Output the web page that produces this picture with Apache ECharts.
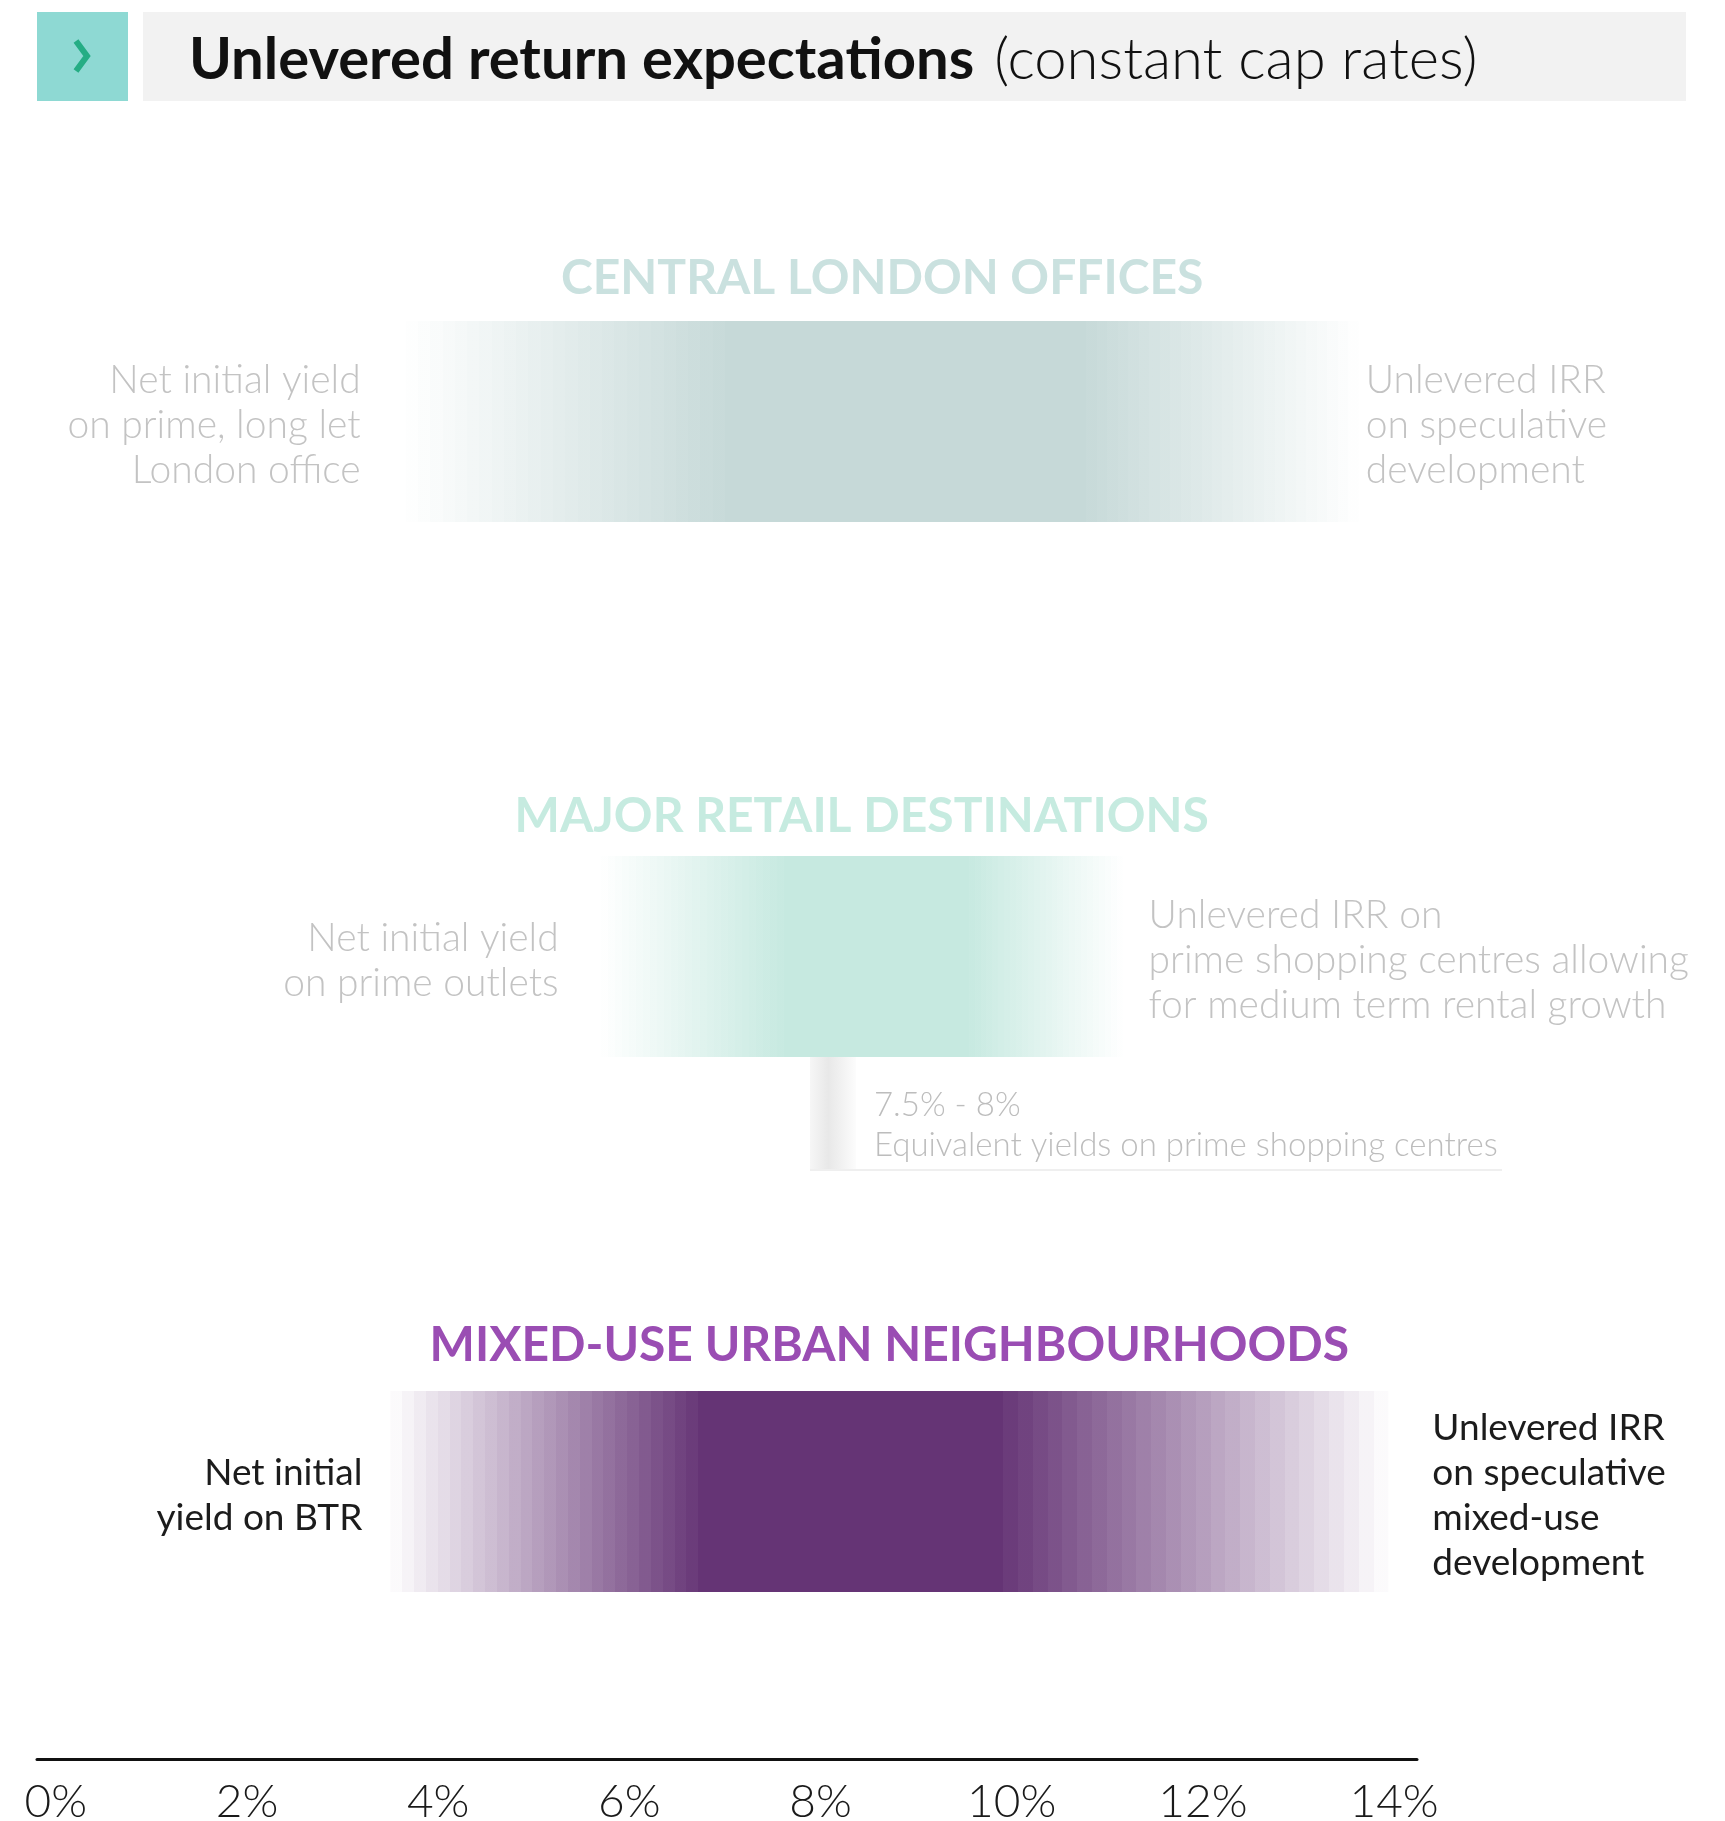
<!DOCTYPE html>
<html lang="en">
<head>
<meta charset="UTF-8">
<title>Unlevered return expectations</title>
<script src="https://cdn.jsdelivr.net/npm/echarts@6.0.0/dist/echarts.min.js"></script>
<style>
  html, body { margin: 0; padding: 0; background: #fff; }
  #chart { width: 1725px; height: 1821px; }
</style>
</head>
<body>
<div id="chart"></div>
<script>
// sectors, top to bottom
var sectors = ['CENTRAL LONDON OFFICES', 'MAJOR RETAIL DESTINATIONS', 'MIXED-USE URBAN NEIGHBOURHOODS'];

// return ranges in %: faded ends and solid core
var rangeLow  = [3.66, 5.70, 3.50];
var coreLow   = [7.00, 7.62, 6.72];
var coreHigh  = [10.78, 9.55, 9.91];
var rangeHigh = [13.63, 11.16, 13.94];

var leftNotes = [
  'Net initial yield\non prime, long let\nLondon office',
  'Net initial yield\non prime outlets',
  'Net initial\nyield on BTR'
];
var rightNotes = [
  'Unlevered IRR\non speculative\ndevelopment',
  'Unlevered IRR on\nprime shopping centres allowing\nfor medium term rental growth',
  'Unlevered IRR\non speculative\nmixed-use\ndevelopment'
];

// equivalent yields on prime shopping centres, sits under the retail bar
var equivRow = 1;
var equivRange = [7.89, 8.37];
var equivText = ['7.5% - 8%', 'Equivalent yields on prime shopping centres'];

var axisTicks = [0, 2, 4, 6, 8, 10, 12, 14];

// look
var coreColors  = ['#c6d9d8', '#c6e9e0', '#653475'];
var titleColors = ['#cae1df', '#c6ebe0', '#9a4db3'];
var noteColors  = ['#c3c3c3', '#c3c3c3', '#1c1c1c'];
var noteWeights = [300, 300, 400];
var noteSizes   = [39, 39, 37];
var titleShift  = [143, 140, 146];
var leftGap  = [45, 42, 28];
var rightGap = [7, 26, 44];
var BAR_H = 201;
var FONT = 'Lato';

// stepped fade in -> solid core -> stepped fade out, offsets in 0..1
function bandStops(color, a, b, c, d) {
  var w = d - a, n = 26, stops = [], i, al;
  for (i = 0; i < n; i++) {
    al = (i + 0.6) / (n + 0.6);
    stops.push({ offset: (b - a) * i / n / w, color: echarts.color.modifyAlpha(color, al) });
    stops.push({ offset: (b - a) * (i + 1) / n / w, color: echarts.color.modifyAlpha(color, al) });
  }
  stops.push({ offset: (b - a) / w, color: color });
  stops.push({ offset: (c - a) / w, color: color });
  for (i = 0; i < n; i++) {
    al = 1 - (i + 1) / (n + 0.6);
    stops.push({ offset: (c - a + (d - c) * i / n) / w, color: echarts.color.modifyAlpha(color, al) });
    stops.push({ offset: (c - a + (d - c) * (i + 1) / n) / w, color: echarts.color.modifyAlpha(color, al) });
  }
  return stops;
}

var barData = sectors.map(function (s, i) {
  return [i, rangeLow[i], coreLow[i], coreHigh[i], rangeHigh[i]];
});

var chart = echarts.init(document.getElementById('chart'));

chart.setOption({
  animation: false,
  backgroundColor: '#fff',
  grid: { left: 37, right: 308, top: 154, bottom: 62, outerBoundsMode: 'none' },
  xAxis: {
    type: 'value',
    min: -0.197,
    max: 14.24,
    axisLine: { show: true, lineStyle: { color: '#111', width: 3 } },
    axisTick: { show: false },
    splitLine: { show: false },
    axisLabel: {
      customValues: axisTicks,
      formatter: '{value}%',
      fontFamily: FONT,
      fontSize: 46,
      fontWeight: 300,
      color: '#1a1a1a',
      margin: 20
    }
  },
  yAxis: { type: 'category', data: sectors, inverse: true, show: false },
  graphic: [
    { type: 'rect', shape: { x: 37, y: 12, width: 91, height: 89 }, style: { fill: '#8ed9d3' } },
    { type: 'polyline', shape: { points: [[76, 41], [87, 56], [76, 71]] },
      style: { stroke: '#25ad84', lineWidth: 6, fill: null } },
    { type: 'rect', shape: { x: 143, y: 12, width: 1543, height: 89 }, style: { fill: '#f2f2f2' } },
    {
      type: 'text', x: 189, y: 60,
      style: {
        text: '{b|Unlevered return expectations}{s| }{l|(constant cap rates)}',
        verticalAlign: 'middle',
        rich: {
          b: { fontFamily: FONT, fontWeight: 'bold', fontSize: 58, fill: '#111' },
          s: { fontFamily: FONT, fontSize: 58, width: 20 },
          l: { fontFamily: FONT, fontWeight: 300, fontSize: 58, fill: '#111' }
        }
      }
    }
  ],
  series: [
    {
      type: 'custom',
      clip: false,
      data: barData,
      encode: { x: [1, 2, 3, 4], y: 0 },
      renderItem: function (params, api) {
        var i = params.dataIndex;
        var row = api.value(0);
        var p0 = api.coord([api.value(1), row]);
        var x1 = api.coord([api.value(2), row])[0];
        var x2 = api.coord([api.value(3), row])[0];
        var x3 = api.coord([api.value(4), row])[0];
        var x0 = p0[0], cy = p0[1];
        return {
          type: 'group',
          children: [
            {
              type: 'rect',
              shape: { x: x0, y: cy - BAR_H / 2, width: x3 - x0, height: BAR_H },
              style: { fill: new echarts.graphic.LinearGradient(0, 0, 1, 0, bandStops(coreColors[i], x0, x1, x2, x3)) }
            },
            {
              type: 'text', x: (x0 + x3) / 2, y: cy - titleShift[i],
              style: {
                text: sectors[i], align: 'center', verticalAlign: 'middle',
                fontFamily: FONT, fontWeight: 'bold', fontSize: 48, fill: titleColors[i]
              }
            },
            {
              type: 'text', x: x0 - leftGap[i], y: cy + 4,
              style: {
                text: leftNotes[i], align: 'right', verticalAlign: 'middle', lineHeight: 45,
                fontFamily: FONT, fontWeight: noteWeights[i], fontSize: noteSizes[i], fill: noteColors[i]
              }
            },
            {
              type: 'text', x: x3 + rightGap[i], y: cy + 4,
              style: {
                text: rightNotes[i], align: 'left', verticalAlign: 'middle', lineHeight: 45,
                fontFamily: FONT, fontWeight: noteWeights[i], fontSize: noteSizes[i], fill: noteColors[i]
              }
            }
          ]
        };
      }
    },
    {
      type: 'custom',
      clip: false,
      data: [[equivRow, equivRange[0], equivRange[1]]],
      encode: { x: [1, 2], y: 0 },
      renderItem: function (params, api) {
        var row = api.value(0);
        var a = api.coord([api.value(1), row]);
        var b = api.coord([api.value(2), row]);
        var top = a[1] + BAR_H / 2, bottom = top + 113;
        return {
          type: 'group',
          children: [
            {
              type: 'rect',
              shape: { x: a[0], y: top, width: b[0] - a[0], height: bottom - top },
              style: {
                fill: new echarts.graphic.LinearGradient(0, 0, 1, 0, [
                  { offset: 0, color: '#f6f6f6' },
                  { offset: 0.4, color: '#e8e8e8' },
                  { offset: 1, color: '#fcfcfc' }
                ])
              }
            },
            {
              type: 'line',
              shape: { x1: a[0], y1: bottom, x2: a[0] + 692, y2: bottom },
              style: { stroke: '#efefef', lineWidth: 2 }
            },
            {
              type: 'text', x: b[0] + 18, y: top + 48,
              style: {
                text: equivText[0], verticalAlign: 'middle',
                fontFamily: FONT, fontWeight: 300, fontSize: 33, fill: '#bdbdbd'
              }
            },
            {
              type: 'text', x: b[0] + 18, y: top + 88,
              style: {
                text: equivText[1], verticalAlign: 'middle',
                fontFamily: FONT, fontWeight: 300, fontSize: 33, fill: '#bdbdbd'
              }
            }
          ]
        };
      }
    }
  ]
});
</script>
</body>
</html>
